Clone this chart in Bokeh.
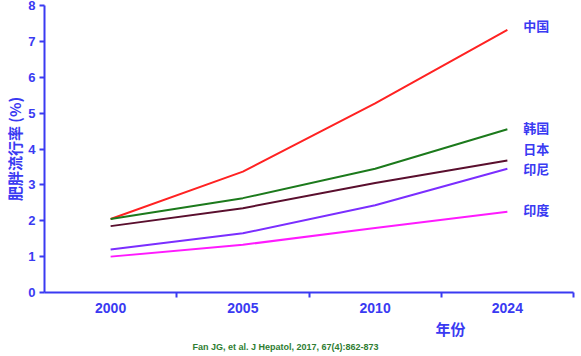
from bokeh.plotting import figure
from bokeh.models import FixedTicker, Range1d, Label, Title
from bokeh.embed import file_html
from bokeh.resources import INLINE

years = ["2000", "2005", "2010", "2024"]
china = [2.05, 3.37, 5.27, 7.32]
korea = [2.05, 2.63, 3.45, 4.55]
japan = [1.85, 2.35, 3.05, 3.68]
indonesia = [1.2, 1.65, 2.43, 3.45]
india = [1.0, 1.33, 1.8, 2.25]
series_names = ["中国", "韩国", "日本", "印尼", "印度"]
label_y = [7.44, 4.6, 4.01, 3.46, 2.31]
series = [china, korea, japan, indonesia, india]
colors = ["#FF2222", "#1C7A1C", "#5A0F2E", "#7B2EFF", "#FF1AFF"]

BLUE = "#3A3AF2"
CJK = "Noto Sans CJK SC"
LAT = "Liberation Sans"

xs = [i + 0.5 for i in range(len(years))]

p = figure(width=581, height=356, output_backend="svg", toolbar_location=None,
           x_range=Range1d(0, 4), y_range=Range1d(0, 8),
           min_border_left=44, min_border_right=8, min_border_top=5, min_border_bottom=64)
p.outline_line_color = None
p.xgrid.grid_line_color = None
p.ygrid.grid_line_color = None
p.background_fill_color = "white"

for ys, c in zip(series, colors):
    p.line(xs, ys, line_color=c, line_width=2)

# x axis
p.xaxis.ticker = FixedTicker(ticks=xs, minor_ticks=[1, 2, 3, 4])
p.xaxis.major_label_overrides = {x: y for x, y in zip(xs, years)}
p.xaxis.major_tick_out = 0
p.xaxis.major_tick_in = 0
p.xaxis.minor_tick_out = 5
p.xaxis.minor_tick_in = 0
p.xaxis.minor_tick_line_color = BLUE
p.xaxis.minor_tick_line_width = 2
p.xaxis.axis_line_color = BLUE
p.xaxis.axis_line_width = 2
p.xaxis.major_label_text_color = BLUE
p.xaxis.major_label_text_font = LAT
p.xaxis.major_label_text_font_style = "bold"
p.xaxis.major_label_text_font_size = "14px"
p.xaxis.major_label_standoff = 5

# y axis
p.yaxis.ticker = FixedTicker(ticks=list(range(0, 9)), minor_ticks=[])
p.yaxis.major_tick_out = 5
p.yaxis.major_tick_in = 0
p.yaxis.major_tick_line_color = BLUE
p.yaxis.major_tick_line_width = 2
p.yaxis.axis_line_color = BLUE
p.yaxis.axis_line_width = 2
p.yaxis.major_label_text_color = BLUE
p.yaxis.major_label_text_font = LAT
p.yaxis.major_label_text_font_style = "bold"
p.yaxis.major_label_text_font_size = "13px"
p.yaxis.major_label_standoff = 4
p.yaxis.axis_label = "肥胖流行率 (%)"
p.yaxis.axis_label_text_font = CJK
p.yaxis.axis_label_text_font_style = "bold"
p.yaxis.axis_label_text_font_size = "15px"
p.yaxis.axis_label_text_color = BLUE
p.yaxis.axis_label_standoff = 0

for name, ly in zip(series_names, label_y):
    p.add_layout(Label(x=3.62, y=ly, text=name, text_font=CJK, text_font_style="bold",
                       text_font_size="13px", text_color=BLUE, text_baseline="middle"))

p.add_layout(Title(text="年份", align="left", offset=391, text_font=CJK,
                   text_font_style="bold", text_font_size="15px", text_color=BLUE,
                   standoff=0), "below")
p.add_layout(Title(text="Fan JG, et al. J Hepatol, 2017, 67(4):862-873", align="left",
                   offset=148, text_font=LAT, text_font_style="bold", text_font_size="9px",
                   text_color="#2E7D32", standoff=2), "below")

open("out.html", "w").write(file_html(p, INLINE))
